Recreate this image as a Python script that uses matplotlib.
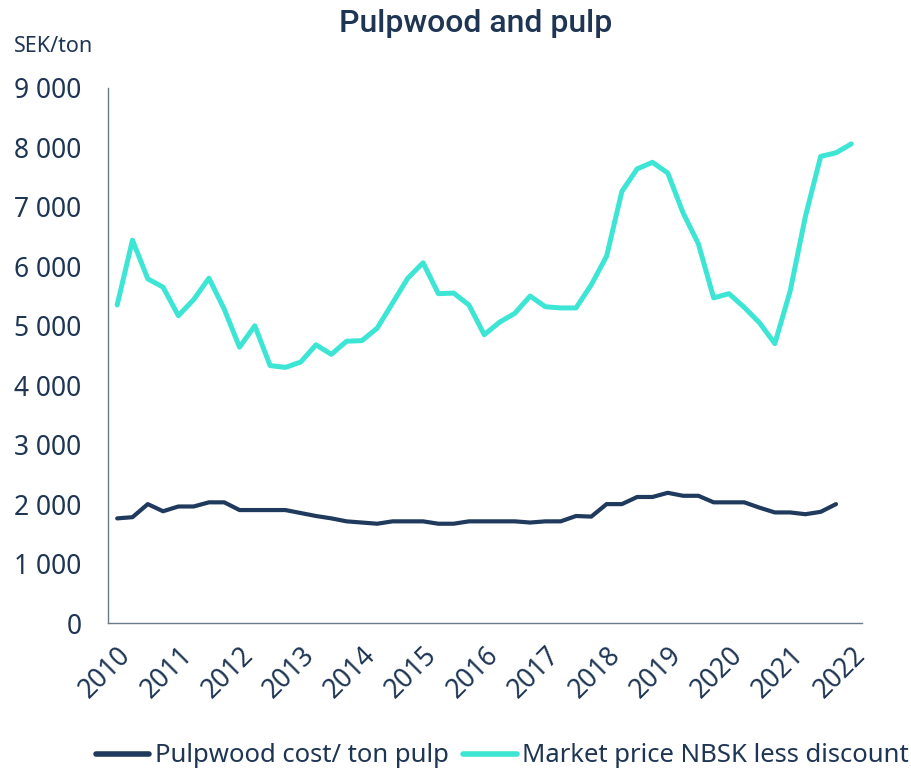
import matplotlib
matplotlib.use("Agg")
import matplotlib.pyplot as plt
import numpy as np

# Quarterly data 2010Q1 .. 2022Q1
years = [str(y) for y in range(2010, 2023)]

market_price = [5350, 6440, 5790, 5650, 5170, 5440, 5800, 5280, 4640, 5000,
                4330, 4300, 4390, 4680, 4520, 4740, 4750, 4960, 5380, 5800,
                6060, 5540, 5550, 5350, 4850, 5060, 5210, 5500, 5320, 5300,
                5300, 5690, 6170, 7260, 7640, 7750, 7570, 6900, 6380, 5470,
                5540, 5310, 5050, 4700, 5580, 6840, 7850, 7910, 8060]

pulpwood_cost = [1760, 1780, 2000, 1880, 1960, 1960, 2030, 2030, 1900, 1900,
                 1900, 1900, 1850, 1800, 1760, 1710, 1690, 1670, 1710, 1710,
                 1710, 1670, 1670, 1710, 1710, 1710, 1710, 1690, 1710, 1710,
                 1800, 1790, 2000, 2000, 2120, 2120, 2190, 2140, 2140, 2030,
                 2030, 2030, 1940, 1860, 1860, 1830, 1870, 2000]

y_ticks = [0, 1000, 2000, 3000, 4000, 5000, 6000, 7000, 8000, 9000]

navy = "#1f3a5c"
cyan = "#3de5d4"
text_c = "#1e3553"
spine_c = "#6b7a8c"

plt.rcParams['font.family'] = ['Noto Sans', 'DejaVu Sans']

fig = plt.figure(figsize=(9.12, 7.72), dpi=100)
ax = fig.add_axes([108/912, 1-623/772, (862-108)/912, (623-88)/772])

x_cost = np.arange(len(pulpwood_cost))
x_mkt = np.arange(len(market_price))
ax.plot(x_cost, pulpwood_cost, color=navy, lw=3.0, solid_capstyle='round',
        solid_joinstyle='round', label="Pulpwood cost/ ton pulp")
ax.plot(x_mkt, market_price, color=cyan, lw=3.6, solid_capstyle='round',
        solid_joinstyle='round', label="Market price NBSK less discount")

ax.set_ylim(0, 9000)
ax.set_xlim(-0.6, 48.7)
ax.set_yticks(y_ticks)
ax.set_yticklabels([f"{v:,}".replace(",", " ") for v in y_ticks],
                   fontsize=19, color=text_c)
ax.set_xticks(np.arange(0, 49, 4))
ax.set_xticklabels(years, rotation=45, ha='right', rotation_mode='anchor',
                   fontsize=19, color=text_c)
ax.tick_params(axis='both', length=0)
ax.tick_params(axis='y', pad=19)
ax.tick_params(axis='x', pad=13)

for s in ['top', 'right']:
    ax.spines[s].set_visible(False)
for s in ['left', 'bottom']:
    ax.spines[s].set_color(spine_c)
    ax.spines[s].set_linewidth(1.0)

fig.text(476/912, 1-24/772, "Pulpwood and pulp", ha='center', va='center',
         fontsize=23, color=text_c, family=['Roboto', 'DejaVu Sans'],
         fontweight='medium')
fig.text(14/912, 1-46/772, "SEK/ton", ha='left', va='center',
         fontsize=15.5, color=text_c)

leg = fig.legend(loc='center', bbox_to_anchor=(502/912, 1-756/772), ncol=2,
                 frameon=False, fontsize=18.5, handlelength=2.1,
                 handletextpad=0.2, columnspacing=0.55)
for t in leg.get_texts():
    t.set_color(text_c)
for l in leg.get_lines():
    l.set_linewidth(4)

fig.savefig("out.png", dpi=100)
